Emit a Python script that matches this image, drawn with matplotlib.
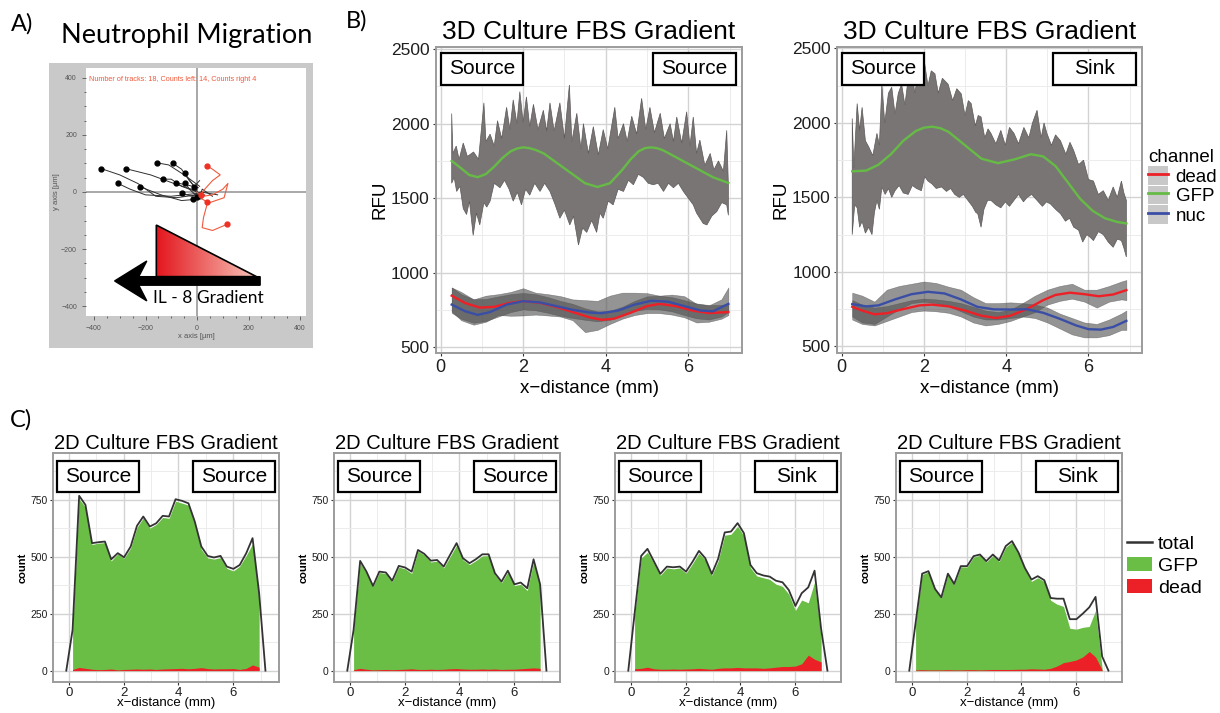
import numpy as np
import matplotlib
matplotlib.use('Agg')
import matplotlib.pyplot as plt
from matplotlib.patches import Rectangle, Polygon, FancyArrow, Patch
from matplotlib.lines import Line2D
from matplotlib.colors import LinearSegmentedColormap

plt.rcParams['font.family'] = ['Liberation Sans', 'DejaVu Sans']

# ---------------- Panel A data (track waypoints, um) ----------------
black_tracks_x = [[0, -80, -160, -230, -300, -372], [-5, -90, -180, -277], [0, -100, -200, -260, -307],
                  [5, -60, -140, -220], [10, -50, -110, -154], [0, -30, -60, -93], [0, -60, -100, -132],
                  [5, -40, -80], [10, -20, -47], [0, -30, -45], [80, 15, -20, -60], [10, 0, -11],
                  [60, 20, 10, -15], [30, 15, -2]]
black_tracks_y = [[-10, -20, -15, 30, 60, 82], [5, 30, 60, 82], [-5, -15, -10, 10, 30],
                  [-25, -30, -10, 18], [20, 60, 95, 102], [10, 40, 80, 100], [0, 20, 45, 45],
                  [15, 25, 32], [-10, 30, 65], [-15, 10, 32], [-10, 0, -15, -5], [40, 30, 18],
                  [-15, 10, -20, -26], [-10, -25, -17]]
red_tracks_x = [[8, 30, 60, 90, 60, 37], [8, 60, 100, 120, 105, 40, 25, 20, 60, 115], [8, 15], [0, 20, 40]]
red_tracks_y = [[-17, 10, 40, 60, 80, 92], [-17, -10, 10, 30, -20, -40, -90, -125, -135, -114], [-17, -11], [0, -25, -35]]
tracks_note = 'Number of tracks: 18, Counts left: 14, Counts right 4'

# ---------------- Panel B data ----------------
gfpL_x = [0.27, 0.5, 0.7, 0.9, 1.1, 1.3, 1.5, 1.7, 1.85, 2.0, 2.15, 2.3, 2.5, 2.8, 3.2, 3.5, 3.8, 4.1, 4.4, 4.6, 4.8, 4.95, 5.1, 5.25, 5.4, 5.8, 6.2, 6.6, 6.97]
gfpL_y = [1750, 1700, 1655, 1641, 1662, 1712, 1770, 1815, 1833, 1841, 1836, 1824, 1800, 1740, 1660, 1600, 1575, 1600, 1690, 1760, 1815, 1836, 1841, 1835, 1820, 1760, 1700, 1640, 1602]
deadL_x = [0.27, 0.6, 0.95, 1.3, 1.65, 2.0, 2.4, 2.8, 3.2, 3.6, 3.9, 4.2, 4.6, 5.0, 5.3, 5.7, 6.1, 6.5, 6.97]
deadL_y = [845, 795, 765, 770, 795, 808, 798, 770, 735, 700, 683, 690, 730, 775, 790, 775, 745, 728, 735]
nucL_x = [0.27, 0.6, 0.9, 1.2, 1.6, 2.0, 2.4, 2.8, 3.2, 3.6, 3.9, 4.3, 4.7, 5.1, 5.5, 5.9, 6.3, 6.6, 6.97]
nucL_y = [785, 740, 716, 735, 785, 808, 800, 775, 750, 732, 727, 745, 785, 811, 805, 775, 745, 740, 790]

gfpR_x = [0.26, 0.6, 0.9, 1.2, 1.5, 1.8, 2.0, 2.2, 2.4, 2.6, 3.0, 3.4, 3.8, 4.2, 4.6, 4.9, 5.2, 5.5, 5.8, 6.1, 6.4, 6.7, 6.92]
gfpR_y = [1675, 1680, 1720, 1790, 1880, 1945, 1968, 1975, 1965, 1940, 1850, 1760, 1730, 1755, 1790, 1775, 1710, 1600, 1490, 1410, 1360, 1335, 1325]
deadR_x = [0.26, 0.5, 0.8, 1.1, 1.5, 1.9, 2.2, 2.6, 3.0, 3.4, 3.75, 4.1, 4.5, 4.9, 5.2, 5.55, 5.9, 6.25, 6.6, 6.92]
deadR_y = [765, 740, 715, 722, 750, 775, 780, 768, 740, 705, 690, 705, 750, 810, 845, 860, 850, 836, 848, 877]
nucR_x = [0.26, 0.6, 0.9, 1.3, 1.7, 2.1, 2.5, 2.9, 3.3, 3.7, 4.1, 4.5, 4.9, 5.3, 5.7, 6.0, 6.3, 6.6, 6.92]
nucR_y = [783, 768, 775, 815, 850, 866, 855, 815, 765, 748, 747, 749, 725, 685, 640, 615, 612, 630, 671]

# raw GFP signal envelopes (left panel)
gfpL_up = [(0.27, 2068), (0.30, 1800), (0.38, 1850), (0.45, 1760), (0.55, 1870), (0.65, 1780), (0.80, 1810), (0.92, 1760),
           (1.05, 2140), (1.10, 1880), (1.20, 1930), (1.30, 1850), (1.38, 2020), (1.48, 1900), (1.60, 2110), (1.68, 1960),
           (1.76, 2160), (1.85, 2000), (1.92, 2215), (2.00, 2010), (2.08, 2180), (2.16, 1980), (2.25, 2130), (2.36, 1960),
           (2.49, 2090), (2.57, 1950), (2.65, 2140), (2.75, 1950), (2.89, 2140), (3.00, 1900), (3.12, 2260), (3.18, 1880),
           (3.30, 2070), (3.40, 1830), (3.46, 2000), (3.58, 1800), (3.70, 1980), (3.82, 1790), (3.94, 1960), (4.05, 1830),
           (4.22, 2110), (4.30, 1900), (4.43, 2000), (4.52, 1880), (4.63, 2050), (4.75, 1930), (4.87, 2170), (4.97, 1960),
           (5.07, 2110), (5.18, 1940), (5.32, 2070), (5.42, 1900), (5.56, 2000), (5.64, 1880), (5.72, 2045), (5.84, 1870),
           (5.96, 2080), (6.04, 1850), (6.12, 2045), (6.20, 1800), (6.28, 1890), (6.40, 1720), (6.53, 1800), (6.62, 1690),
           (6.73, 1750), (6.85, 1680), (6.93, 1955), (6.97, 1590)]
gfpL_lo = [(0.27, 1600), (0.33, 1640), (0.39, 1545), (0.47, 1580), (0.55, 1430), (0.63, 1390), (0.70, 1480), (0.79, 1250),
           (0.87, 1400), (0.95, 1320), (1.05, 1470), (1.12, 1440), (1.20, 1480), (1.30, 1600), (1.44, 1570), (1.55, 1620),
           (1.66, 1560), (1.76, 1480), (1.86, 1540), (1.96, 1455), (2.06, 1560), (2.16, 1520), (2.28, 1600), (2.41, 1545),
           (2.52, 1600), (2.65, 1545), (2.77, 1460), (2.89, 1365), (3.00, 1420), (3.13, 1320), (3.22, 1380), (3.34, 1185),
           (3.44, 1300), (3.54, 1270), (3.66, 1350), (3.78, 1270), (3.86, 1400), (3.94, 1365), (4.06, 1480), (4.18, 1455),
           (4.30, 1560), (4.43, 1545), (4.55, 1620), (4.67, 1590), (4.79, 1660), (4.91, 1640), (5.03, 1600), (5.15, 1590),
           (5.27, 1600), (5.40, 1545), (5.52, 1600), (5.64, 1570), (5.76, 1600), (5.88, 1545), (6.00, 1500), (6.12, 1455),
           (6.20, 1400), (6.28, 1365), (6.36, 1330), (6.45, 1320), (6.57, 1380), (6.69, 1410), (6.81, 1470), (6.93, 1455),
           (6.97, 1385)]
# raw GFP signal envelopes (right panel)
gfpR_up = [(0.26, 2030), (0.30, 1700), (0.38, 2130), (0.44, 1950), (0.50, 2105), (0.58, 1880), (0.66, 1840), (0.76, 1780),
           (0.86, 1930), (0.92, 1850), (0.98, 2260), (1.05, 2000), (1.14, 2200), (1.22, 2240), (1.30, 2060), (1.38, 2200),
           (1.46, 2260), (1.54, 2120), (1.62, 2300), (1.70, 2375), (1.78, 2200), (1.86, 2330), (1.94, 2250), (2.02, 2400),
           (2.10, 2250), (2.18, 2350), (2.27, 2330), (2.35, 2200), (2.45, 2300), (2.59, 2260), (2.70, 2150), (2.80, 2230),
           (2.91, 2195), (3.00, 2050), (3.08, 2150), (3.15, 2130), (3.25, 1980), (3.32, 2050), (3.39, 2040), (3.48, 1900),
           (3.56, 1960), (3.63, 1930), (3.75, 1860), (3.87, 1950), (3.98, 1850), (4.08, 1970), (4.19, 1930), (4.30, 1860),
           (4.43, 1970), (4.55, 1900), (4.64, 2000), (4.75, 2085), (4.85, 1900), (4.92, 2000), (4.99, 1930), (5.10, 1850),
           (5.20, 1920), (5.32, 1880), (5.45, 1790), (5.55, 1870), (5.64, 1815), (5.76, 1720), (5.88, 1750), (6.00, 1620),
           (6.12, 1610), (6.24, 1520), (6.36, 1545), (6.48, 1480), (6.60, 1570), (6.70, 1500), (6.80, 1610), (6.86, 1530),
           (6.92, 1480)]
gfpR_lo = [(0.26, 1250), (0.32, 1450), (0.38, 1430), (0.44, 1300), (0.50, 1340), (0.58, 1260), (0.66, 1300), (0.74, 1250),
           (0.80, 1400), (0.86, 1480), (0.92, 1420), (0.98, 1570), (1.06, 1520), (1.14, 1560), (1.22, 1500), (1.30, 1545),
           (1.40, 1580), (1.50, 1530), (1.62, 1520), (1.72, 1580), (1.82, 1560), (1.94, 1545), (2.02, 1640), (2.10, 1610),
           (2.20, 1590), (2.30, 1560), (2.43, 1570), (2.55, 1540), (2.65, 1560), (2.75, 1520), (2.86, 1500), (2.96, 1520),
           (3.07, 1480), (3.18, 1440), (3.26, 1400), (3.31, 1390), (3.39, 1300), (3.46, 1420), (3.55, 1480), (3.63, 1480),
           (3.75, 1450), (3.87, 1430), (3.98, 1470), (4.08, 1440), (4.19, 1480), (4.30, 1520), (4.42, 1470), (4.51, 1500),
           (4.62, 1520), (4.75, 1480), (4.88, 1440), (4.98, 1470), (5.08, 1455), (5.20, 1420), (5.32, 1390), (5.44, 1340),
           (5.54, 1360), (5.64, 1300), (5.76, 1280), (5.86, 1200), (5.96, 1250), (6.05, 1230), (6.12, 1210), (6.24, 1270),
           (6.36, 1250), (6.48, 1200), (6.60, 1165), (6.70, 1220), (6.80, 1210), (6.86, 1160), (6.92, 1100)]

# raw dead / nuc signal bands
lowL_x = [0.27, 0.5, 0.8, 1.1, 1.4, 1.7, 2.0, 2.3, 2.6, 2.9, 3.2, 3.5, 3.8, 4.1, 4.4, 4.7, 5.0, 5.3, 5.6, 5.9, 6.2, 6.5, 6.8, 6.97]
nucL_up = [900, 870, 820, 845, 855, 870, 895, 865, 855, 842, 820, 815, 810, 845, 865, 865, 862, 845, 852, 842, 790, 780, 820, 900]
nucL_lo = [730, 690, 663, 675, 705, 735, 753, 747, 730, 710, 695, 683, 673, 683, 710, 743, 756, 753, 740, 715, 693, 685, 705, 735]
deadL_up = [900, 855, 821, 823, 840, 855, 863, 855, 835, 810, 790, 760, 739, 743, 770, 810, 840, 845, 835, 815, 793, 782, 783, 790]
deadL_lo = [740, 680, 650, 670, 715, 710, 712, 718, 712, 705, 680, 600, 615, 655, 690, 715, 728, 728, 718, 700, 665, 670, 690, 715]
lowR_x = [0.26, 0.5, 0.8, 1.1, 1.4, 1.7, 2.0, 2.3, 2.6, 2.9, 3.2, 3.5, 3.8, 4.1, 4.4, 4.7, 5.0, 5.3, 5.6, 5.9, 6.2, 6.5, 6.8, 6.92]
nucR_up = [860, 840, 800, 880, 905, 920, 935, 925, 900, 880, 830, 790, 790, 795, 790, 780, 760, 720, 690, 660, 650, 680, 720, 740]
nucR_lo = [700, 660, 650, 700, 750, 790, 800, 790, 770, 735, 700, 680, 680, 690, 700, 690, 660, 620, 580, 560, 560, 575, 610, 610]
deadR_up = [810, 780, 760, 770, 790, 810, 820, 815, 805, 790, 765, 740, 730, 745, 790, 840, 880, 905, 920, 880, 880, 905, 935, 945]
deadR_lo = [680, 650, 640, 670, 700, 730, 740, 735, 725, 700, 660, 640, 650, 670, 700, 730, 780, 805, 820, 800, 760, 800, 815, 810]

channels = ['dead', 'GFP', 'nuc']

# ---------------- Panel C data ----------------
C_x = [-0.09, 0.14, 0.38, 0.61, 0.85, 1.08, 1.32, 1.55, 1.79, 2.02, 2.26, 2.49, 2.72, 2.96, 3.19, 3.43,
       3.66, 3.90, 4.13, 4.37, 4.60, 4.84, 5.07, 5.30, 5.54, 5.77, 6.01, 6.24, 6.48, 6.71, 6.95, 7.18]
total1 = [0, 179, 768, 728, 560, 564, 567, 489, 516, 498, 545, 636, 677, 633, 647, 680, 677, 753, 746, 735, 655, 545, 504, 497, 504, 457, 447, 464, 516, 582, 340, 0]
total2 = [0, 179, 482, 435, 372, 435, 431, 395, 460, 453, 435, 530, 513, 483, 486, 457, 508, 560, 494, 472, 489, 511, 511, 428, 391, 439, 379, 387, 362, 489, 379, 0]
total3 = [0, 250, 504, 535, 479, 425, 457, 454, 457, 435, 479, 526, 494, 425, 491, 607, 611, 648, 604, 464, 428, 418, 413, 395, 388, 354, 284, 340, 366, 439, 182, 0]
total4 = [0, 209, 426, 437, 359, 322, 426, 381, 459, 459, 503, 510, 481, 510, 484, 547, 569, 518, 451, 400, 415, 397, 319, 316, 316, 226, 226, 250, 278, 324, 62, 0]
gfp1 = [174, 754, 718, 554, 560, 562, 482, 513, 493, 539, 629, 671, 626, 642, 673, 669, 744, 736, 727, 645, 532, 495, 490, 496, 449, 438, 459, 506, 557, 325]
gfp2 = [175, 472, 429, 369, 431, 426, 391, 455, 447, 427, 525, 508, 477, 481, 451, 500, 551, 487, 466, 483, 504, 505, 421, 386, 433, 373, 379, 352, 477, 369]
gfp3 = [242, 494, 520, 471, 419, 451, 447, 451, 428, 471, 516, 486, 419, 481, 595, 599, 634, 592, 452, 416, 408, 401, 380, 370, 336, 264, 310, 298, 389, 144]
gfp4 = [206, 422, 434, 356, 319, 422, 378, 456, 455, 499, 507, 477, 505, 479, 542, 564, 512, 445, 392, 408, 391, 309, 292, 282, 186, 182, 190, 194, 264, 10]
dead1 = [5, 14, 10, 6, 4, 5, 7, 3, 5, 6, 7, 6, 7, 5, 7, 8, 9, 10, 8, 10, 13, 9, 7, 8, 8, 9, 5, 10, 25, 15]
dead2 = [4, 10, 6, 3, 4, 5, 4, 5, 6, 8, 5, 5, 6, 5, 6, 8, 9, 7, 6, 6, 7, 6, 7, 5, 6, 6, 8, 10, 12, 10]
dead3 = [8, 10, 15, 8, 6, 6, 7, 6, 7, 8, 10, 8, 6, 10, 12, 12, 14, 12, 12, 12, 10, 12, 15, 18, 18, 20, 30, 68, 50, 38]
dead4 = [3, 4, 3, 3, 3, 4, 3, 3, 4, 4, 3, 4, 5, 5, 5, 5, 6, 6, 8, 7, 6, 10, 20, 35, 40, 47, 60, 84, 60, 3]
right_labels_C = ['Source', 'Source', 'Sink', 'Sink']

# ---------------- styling ----------------
W, H = 1220, 713
fig = plt.figure(figsize=(W / 100, H / 100), dpi=100)
C_RED, C_GREEN, C_BLUE = '#ee2027', '#66bb46', '#3a4ea6'


def fr(l, t, r, b):
    return [l / W, 1 - b / H, (r - l) / W, (b - t) / H]


def gg_style(ax):
    ax.set_facecolor('white')
    ax.grid(which='major', color='#d3d3d3', lw=1.0)
    ax.grid(which='minor', color='#ececec', lw=0.7)
    ax.set_axisbelow(True)
    for s in ax.spines.values():
        s.set_color('#9c9c9c')
        s.set_linewidth(1.4)
    ax.tick_params(which='major', direction='out', length=2.5, width=0.8, color='#333333', labelcolor='#1e1e1e')
    ax.tick_params(which='minor', length=0)


def label_box(ax, axw, axh, x0, y0, w, h, text, size=15):
    ax.add_patch(Rectangle((x0 / axw, 1 - (y0 + h) / axh), w / axw, h / axh, transform=ax.transAxes,
                           facecolor='white', edgecolor='black', lw=1.6, zorder=6, clip_on=False))
    ax.text((x0 + w / 2) / axw, 1 - (y0 + h / 2) / axh, text, transform=ax.transAxes, ha='center',
            va='center', fontsize=size, zorder=7)


# ---------------- Panel A ----------------
fig.add_artist(Rectangle((49 / W, 1 - 348 / H), 264 / W, 285 / H, transform=fig.transFigure,
                         facecolor='#c9c9c9', edgecolor='none', zorder=0))
axA = fig.add_axes(fr(86, 68, 306, 316))
axA.set_facecolor('white')
for s in axA.spines.values():
    s.set_visible(False)
axA.axhline(0, color='#9a9a9a', lw=1.2, zorder=1)
axA.axvline(0, color='#9a9a9a', lw=1.2, zorder=1)
for tx, ty in zip(black_tracks_x, black_tracks_y):
    axA.plot(tx, ty, color='#2f2f2f', lw=0.7, zorder=2)
    axA.plot(tx[-1], ty[-1], 'o', ms=3.5, color='black', zorder=3)
for tx, ty in zip(red_tracks_x, red_tracks_y):
    axA.plot(tx, ty, color='#f05a3c', lw=0.8, zorder=2)
    axA.plot(tx[-1], ty[-1], 'o', ms=3.5, color='#ee3124', zorder=3)
tri_x = [-158, -158, 231]
tri_y = [-116, -297, -297]
tri = Polygon(list(zip(tri_x, tri_y)), closed=True, facecolor='none', edgecolor='black', lw=1.2, zorder=5)
grad = LinearSegmentedColormap.from_list('grad', ['#e3161d', '#f8c4b9'])
im = axA.imshow(np.linspace(0, 1, 256)[None, :], cmap=grad, aspect='auto', zorder=4,
                extent=[min(tri_x), max(tri_x), min(tri_y), max(tri_y)])
axA.add_patch(tri)
im.set_clip_path(tri)
axA.add_patch(FancyArrow(245, -312, -565, 0, width=30, head_width=140, head_length=125,
                         length_includes_head=True, color='black', overhang=0.25, zorder=6))
axA.text(45, -372, 'IL - 8 Gradient', ha='center', va='center', fontsize=12.5, family=['Lato', 'DejaVu Sans'], zorder=7)
axA.text(-418, 395, tracks_note, color='#f05a3c', fontsize=5.2, va='center', zorder=7)
axA.set_xlim(-431, 423)
axA.set_ylim(-435, 435)
axA.set_xticks([-400, -200, 0, 200, 400])
axA.set_yticks([-400, -200, 0, 200, 400])
axA.set_xticks(np.arange(-400, 401, 50), minor=True)
axA.set_yticks(np.arange(-400, 401, 50), minor=True)
axA.tick_params(which='both', direction='out', color='#555555', labelcolor='#555555', labelsize=5, width=0.6)
axA.tick_params(which='major', length=3)
axA.tick_params(which='minor', length=1.5)
axA.set_xlabel('x axis [µm]', fontsize=5.5, color='#555555', labelpad=1)
axA.set_ylabel('y axis [µm]', fontsize=5.5, color='#555555', labelpad=1)
fig.text(187 / W, 1 - 36 / H, 'Neutrophil Migration', ha='center', va='center', fontsize=19.5, family=['Lato', 'DejaVu Sans'])
fig.text(11 / W, 1 - 24 / H, 'A)', ha='left', va='center', fontsize=17, family=['Lato', 'DejaVu Sans'])
fig.text(346 / W, 1 - 21 / H, 'B)', ha='left', va='center', fontsize=17, family=['Lato', 'DejaVu Sans'])
fig.text(10 / W, 1 - 420 / H, 'C)', ha='left', va='center', fontsize=17, family=['Lato', 'DejaVu Sans'])


# ---------------- Panel B ----------------
def panel_b(box, gfp_x, gfp_y, dead_x, dead_y, nuc_x, nuc_y, gup, glo, low_x, nup, nlo, dup, dlo, right_text, ylim):
    l, t, r, b = box
    ax = fig.add_axes(fr(l, t, r, b))
    gg_style(ax)
    poly = [p for p in gup] + [p for p in glo[::-1]]
    ax.add_patch(Polygon(poly, closed=True, facecolor='#7a7575', edgecolor='#5d5959', lw=0.5, zorder=2))
    ax.fill_between(low_x, nlo, nup, color='#525252', alpha=0.62, lw=0.4, zorder=2)
    ax.fill_between(low_x, dlo, dup, color='#525252', alpha=0.62, lw=0.4, zorder=2)
    ax.plot(gfp_x, gfp_y, color=C_GREEN, lw=1.7, zorder=3)
    ax.plot(dead_x, dead_y, color=C_RED, lw=1.7, zorder=3)
    ax.plot(nuc_x, nuc_y, color=C_BLUE, lw=1.7, zorder=3)
    ax.set_xlim(-0.11, 7.3)
    ax.set_ylim(*ylim)
    ax.set_xticks([0, 2, 4, 6])
    ax.set_xticks([1, 3, 5, 7], minor=True)
    ax.set_yticks([500, 1000, 1500, 2000, 2500])
    ax.set_yticks([750, 1250, 1750, 2250], minor=True)
    ax.tick_params(axis='y', labelsize=12.5, pad=2)
    ax.tick_params(axis='x', labelsize=13, pad=2)
    ax.set_xlabel('x\u2212distance (mm)', fontsize=13.5, labelpad=3)
    ax.set_ylabel('RFU', fontsize=13.5, labelpad=2)
    ax.set_title('3D Culture FBS Gradient', fontsize=19, pad=6)
    aw, ah = r - l, b - t
    label_box(ax, aw, ah, 5, 6, 82, 32, 'Source')
    label_box(ax, aw, ah, aw - 89, 6, 83, 32, right_text)
    return ax


axB1 = panel_b((436, 47, 742, 353), gfpL_x, gfpL_y, deadL_x, deadL_y, nucL_x, nucL_y, gfpL_up, gfpL_lo,
               lowL_x, nucL_up, nucL_lo, deadL_up, deadL_lo, 'Source', (460, 2515))
axB2 = panel_b((837, 47, 1142, 353), gfpR_x, gfpR_y, deadR_x, deadR_y, nucR_x, nucR_y, gfpR_up, gfpR_lo,
               lowR_x, nucR_up, nucR_lo, deadR_up, deadR_lo, 'Sink', (455, 2510))

keyB = [(Patch(facecolor='#c8c8c8', edgecolor='none'), Line2D([], [], color=c, lw=2))
        for c in (C_RED, C_GREEN, C_BLUE)]
legB = fig.legend(keyB, channels, loc='upper left', bbox_to_anchor=(1148 / W, 1 - 149 / H), frameon=False,
                  title='channel', fontsize=13.5, title_fontsize=13.5, alignment='left', handlelength=1.07,
                  handleheight=1.15, labelspacing=0.0, handletextpad=0.4, borderpad=0, borderaxespad=0)

# ---------------- Panel C ----------------
C_lefts = [53, 334, 615, 896]
for L, tot, gfp, dead, rt in zip(C_lefts, [total1, total2, total3, total4], [gfp1, gfp2, gfp3, gfp4],
                                 [dead1, dead2, dead3, dead4], right_labels_C):
    ax = fig.add_axes(fr(L, 453, L + 226, 682))
    gg_style(ax)
    ax.fill_between(C_x[1:31], 0, gfp, color='#6abd45', lw=0, zorder=2)
    ax.fill_between(C_x[1:31], 0, dead, color='#ec2127', lw=0, zorder=3)
    ax.plot(C_x, tot, color='#333333', lw=1.3, zorder=4)
    ax.set_xlim(-0.575, 7.675)
    ax.set_ylim(-50, 956)
    ax.set_xticks([0, 2, 4, 6])
    ax.set_xticks([1, 3, 5, 7], minor=True)
    ax.set_yticks([0, 250, 500, 750])
    ax.set_yticks([125, 375, 625, 875], minor=True)
    ax.tick_params(axis='y', labelsize=7.5, pad=1.5)
    ax.tick_params(axis='x', labelsize=9.5, pad=1)
    ax.set_xlabel('x\u2212distance (mm)', fontsize=9.5, labelpad=-1)
    ax.set_ylabel('count', fontsize=8, fontweight='bold', labelpad=2)
    ax.set_title('2D Culture FBS Gradient', fontsize=14.5, pad=1.5)
    label_box(ax, 226, 229, 4, 8, 82, 31, 'Source')
    label_box(ax, 226, 229, 140, 8, 82, 31, rt)

keyC = [Line2D([], [], color='#333333', lw=1.8), Patch(facecolor='#6abd45', edgecolor='none'),
        Patch(facecolor='#ec2127', edgecolor='none')]
fig.legend(keyC, ['total', 'GFP', 'dead'], loc='center left', bbox_to_anchor=(1127 / W, 1 - 566 / H),
           frameon=False, fontsize=14, handlelength=1.3, handleheight=0.75, labelspacing=0.2,
           handletextpad=0.3, borderpad=0, borderaxespad=0)

fig.savefig('out.png', dpi=100)
